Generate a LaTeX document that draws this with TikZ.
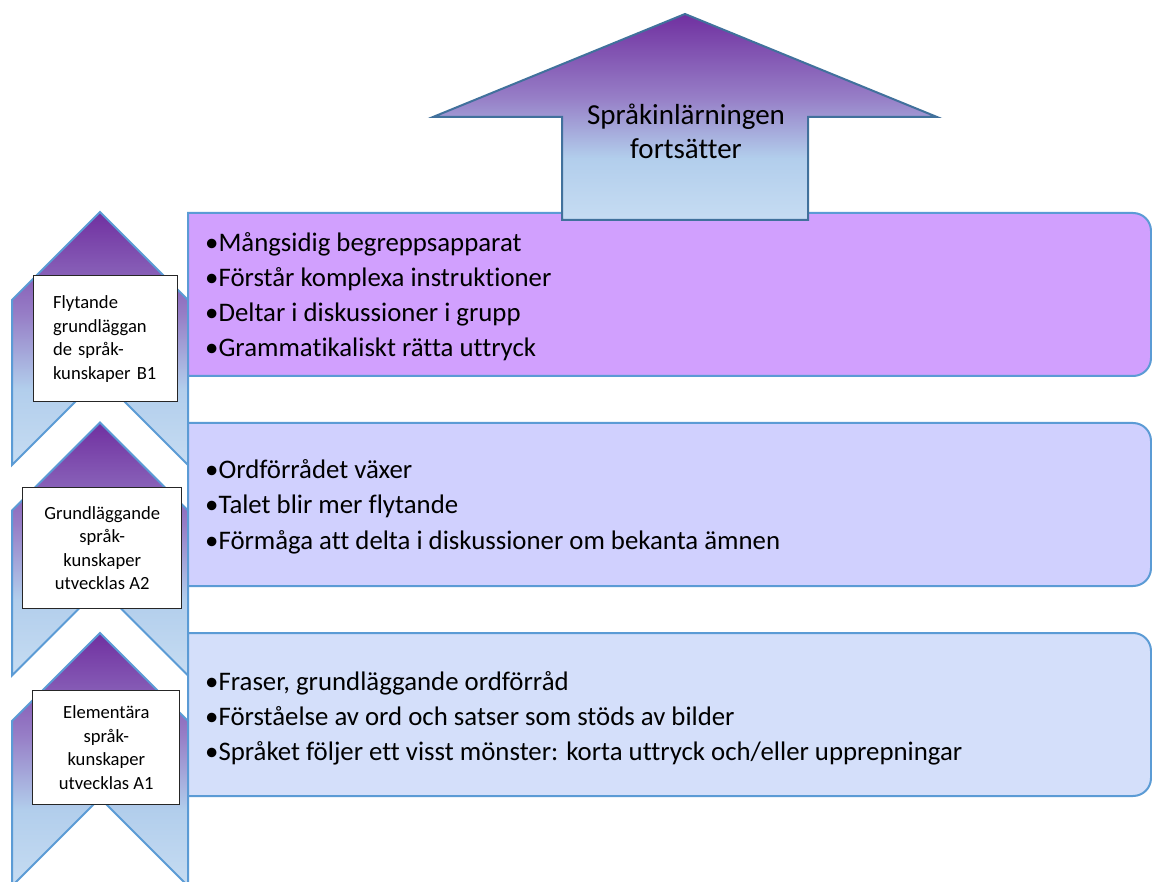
\documentclass[tikz,border=0pt]{standalone}
\usepackage{fontspec}
\setmainfont{Carlito}[Ligatures=NoCommon]
\definecolor{cbot}{RGB}{198,220,242}
\definecolor{clb}{RGB}{178,206,236}
\definecolor{cmid}{RGB}{150,125,198}
\definecolor{ctop}{RGB}{112,48,160}
\definecolor{edgeblue}{RGB}{91,155,213}
\definecolor{arrowedge}{RGB}{65,113,156}
\definecolor{fillA}{RGB}{209,160,254}
\definecolor{fillB}{RGB}{208,208,254}
\definecolor{fillC}{RGB}{212,223,250}
\pgfdeclareverticalshading{chevshade}{100bp}{color(0bp)=(cbot); color(25bp)=(cbot); color(40bp)=(clb); color(55bp)=(cmid); color(75bp)=(ctop); color(100bp)=(ctop)}
\tikzset{
  chev/.style={shading=chevshade, draw=edgeblue, line width=2pt, line join=miter},
  bigarrow/.style={shading=chevshade, draw=arrowedge, line width=2pt, line join=miter},
  levelbox/.style={draw=edgeblue, line width=2pt},
  tag/.style={draw=black!85, line width=1pt, fill=white, inner sep=0pt,
    font=\fontsize{18.6}{23.5}\selectfont},
  itemtxt/.style={anchor=base west, inner sep=0pt, font=\fontsize{26.8}{35}\selectfont},
  arrowtxt/.style={anchor=base, inner sep=0pt, font=\fontsize{29}{34}\selectfont}
}
\begin{document}
\begin{tikzpicture}[x=1pt,y=-1pt]
\useasboundingbox (0,0) rectangle (1152,882);
\fill[white] (0,0) rectangle (1152,882);
\clip (0,0) rectangle (1152,882);
% chevrons
\foreach \y in {212,422.5,633}{
  \path[chev] (100,\y) -- (188,\y+88) -- (188,\y+253) -- (100,\y+165) -- (12,\y+253) -- (12,\y+88) -- cycle;
}
% level boxes
\path[levelbox, fill=fillA] (188,213) -- (1133,213) .. controls (1143,213) and (1151,221) .. (1151,231) -- (1151,358) .. controls (1151,368) and (1143,376) .. (1133,376) -- (188,376) -- cycle;
\path[levelbox, fill=fillB] (188,423) -- (1133,423) .. controls (1143,423) and (1151,431) .. (1151,441) -- (1151,568) .. controls (1151,578) and (1143,586) .. (1133,586) -- (188,586) -- cycle;
\path[levelbox, fill=fillC] (188,633) -- (1133,633) .. controls (1143,633) and (1151,641) .. (1151,651) -- (1151,778) .. controls (1151,788) and (1143,796) .. (1133,796) -- (188,796) -- cycle;
% big arrow
\path[bigarrow] (685,14) -- (937,117) -- (808,117) -- (808,220) -- (562,220) -- (562,117) -- (433,117) -- cycle;
\node[arrowtxt] (ar1) at (686,125) {Språkinlärningen};
\node[arrowtxt] (ar2) at (686,159) {fortsätter};
% texts in level boxes
\node[itemtxt] (b1a) at (205,252) {•Mångsidig begreppsapparat};
\node[itemtxt] (b1b) at (205,287) {•Förstår komplexa instruktioner};
\node[itemtxt] (b1c) at (205,322) {•Deltar i diskussioner i grupp};
\node[itemtxt] (b1d) at (205,357) {•Grammatikaliskt rätta uttryck};
\node[itemtxt] (b2a) at (205,479) {•Ordförrådet växer};
\node[itemtxt] (b2b) at (205,514) {•Talet blir mer flytande};
\node[itemtxt] (b2c) at (205,549) {•Förmåga att delta i diskussioner om bekanta ämnen};
\node[itemtxt] (b3a) at (205,690) {•Fraser, grundläggande ordförråd};
\node[itemtxt] (b3b) at (205,725) {•Förståelse av ord och satser som stöds av bilder};
\node[itemtxt] (b3c) at (205,760) {•Språket följer ett visst mönster: korta uttryck och/eller upprepningar};
% tags on chevrons
\node[tag, minimum width=144pt, minimum height=126pt, text width=104pt, inner xsep=20pt, align=left] (t1) at (105,339) {Flytande\\grundläggan\\de språk-\\kunskaper B1};
\node[tag, minimum width=159pt, minimum height=120.6pt, align=center] (t2) at (102.2,548) {Grundläggande\\språk-\\kunskaper\\utvecklas A2};
\node[tag, minimum width=147.3pt, minimum height=114.3pt, align=center] (t3) at (106.3,747.8) {Elementära\\språk-\\kunskaper\\utvecklas A1};
\end{tikzpicture}
\end{document}
